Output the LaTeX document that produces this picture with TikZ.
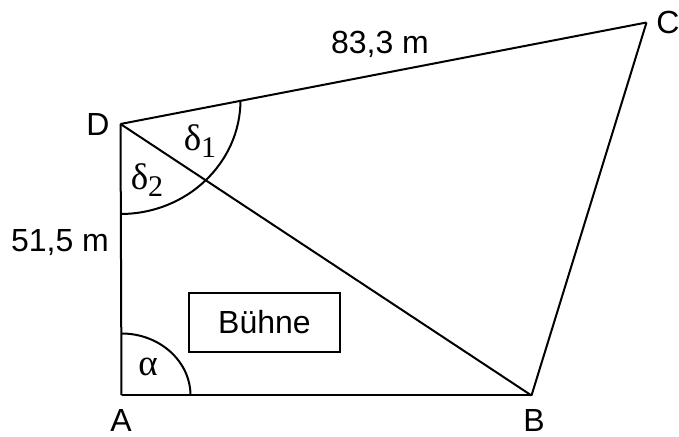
\documentclass[tikz,border=0pt]{standalone}
\usepackage{fontspec}
\setmainfont{Liberation Sans}
\newfontfamily\greekfont{Liberation Serif}
\newcommand{\winkel}[2]{{\greekfont\fontsize{18.5}{20}\selectfont #1\raisebox{-0.45ex}{\fontsize{15}{16}\selectfont #2}}}
\begin{document}
\begin{tikzpicture}[x=0.5pt,y=0.5pt,line width=1pt,every node/.style={font=\fontsize{16}{18}\selectfont,inner sep=0pt}]
  \useasboundingbox (0,0) rectangle (679,437);
  % Eckpunkte
  \coordinate (A) at (121.5, 41.5);
  \coordinate (B) at (531.5, 41.5);
  \coordinate (C) at (646.5, 414.5);
  \coordinate (D) at (120.5, 313);

  % Seiten
  \foreach \from/\to in {A/B, B/C, C/D, D/A, D/B}
    \draw (\from) -- (\to);

  % Winkel
  \draw (121.5, 103.5) arc[start angle=90, end angle=0, x radius=69, y radius=62];
  \draw (120.5, 223) arc[start angle=270, end angle=360, x radius=120, y radius=114];

  % Beschriftung
  \node (lA) at (121, 17) {A};
  \node (lB) at (534, 17) {B};
  \node (lC) at (668, 414.5) {C};
  \node (lD) at (98, 312.5) {D};
  \node (lDC) at (380, 393) {83,3 m};
  \node (lDA) at (60, 194.5) {51,5 m};
  \node[draw, minimum width=75.5pt, minimum height=29.5pt] (buehne) at (264.5, 114.5) {Bühne};
  \node (alpha) at (148, 66) {\winkel{α}{}};
  \node (delta1) at (200, 296) {\winkel{δ}{1}};
  \node (delta2) at (147, 257) {\winkel{δ}{2}};
\end{tikzpicture}
\end{document}
